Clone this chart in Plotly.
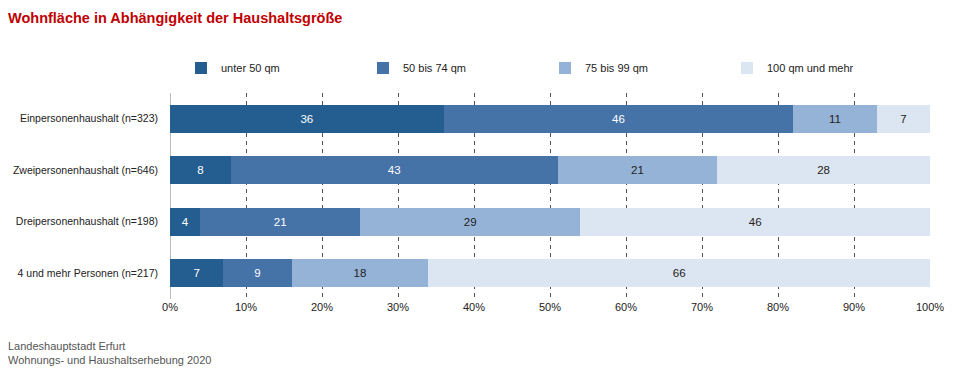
import plotly.graph_objects as go

categories = [
    "Einpersonenhaushalt (n=323)",
    "Zweipersonenhaushalt (n=646)",
    "Dreipersonenhaushalt (n=198)",
    "4 und mehr Personen (n=217)",
]
series_names = ["unter 50 qm", "50 bis 74 qm", "75 bis 99 qm", "100 qm und mehr"]
unter_50 = [36, 8, 4, 7]
bis_74 = [46, 43, 21, 9]
bis_99 = [11, 21, 29, 18]
ab_100 = [7, 28, 46, 66]
tick_vals = [0, 10, 20, 30, 40, 50, 60, 70, 80, 90, 100]
tick_text = [f"{v}%" for v in tick_vals]

colors = ["#245e91", "#4572a7", "#95b3d7", "#dce6f2"]
text_colors = ["white", "white", "#222222", "#222222"]
FONT = "Liberation Sans, Arial, sans-serif"
FS = 11

# page body has an 8px margin, so the figure is sized to fit the 960x375 window
W, H = 952, 367
L, R, T, B = 162, 30, 85, 76
PW, PH = W - L - R, H - T - B

fig = go.Figure()
for name, vals, col, tcol in zip(series_names, [unter_50, bis_74, bis_99, ab_100], colors, text_colors):
    fig.add_trace(go.Bar(
        y=categories, x=vals, name=name, orientation="h",
        marker=dict(color=col, line=dict(width=0)),
        text=vals, textposition="inside", insidetextanchor="middle",
        textfont=dict(color=tcol, size=FS + 0.5, family=FONT),
        hoverinfo="x+name",
    ))

fig.update_layout(
    barmode="stack",
    bargap=0.45,
    width=W, height=H,
    margin=dict(l=L, r=R, t=T, b=B, autoexpand=False),
    paper_bgcolor="white", plot_bgcolor="white",
    font=dict(family=FONT, size=FS, color="#222222"),
    title=dict(text="Wohnfläche in Abhängigkeit der Haushaltsgröße",
               xref="container", yref="container",
               x=0, xanchor="left", y=1 - 10 / H, yanchor="middle",
               pad=dict(l=0, r=0, t=0, b=0),
               font=dict(family=FONT, size=14.5, color="#c00000", weight="bold")),
    legend=dict(orientation="h", xref="paper", yref="paper",
                x=(173 - L) / PW, xanchor="left", y=1 + 25 / PH, yanchor="middle",
                entrywidth=137, entrywidthmode="pixels",
                traceorder="normal", font=dict(size=FS, family=FONT),
                itemclick=False, itemdoubleclick=False),
    xaxis=dict(range=[0, 100], tickvals=tick_vals, ticktext=tick_text,
               showgrid=True, gridcolor="#555555", griddash="4px,4px", gridwidth=1,
               zeroline=True, zerolinecolor="#bbbbbb", zerolinewidth=1,
               showline=False, ticks="", tickfont=dict(size=FS), automargin=False),
    yaxis=dict(autorange="reversed", showgrid=False, zeroline=False, ticks="",
               ticklabelstandoff=11, tickfont=dict(size=10.5), automargin=False),
    annotations=[
        dict(text="Landeshauptstadt Erfurt<br>Wohnungs- und Haushaltserhebung 2020",
             xref="paper", yref="paper", x=-(L + 2) / PW, y=-39 / PH, xanchor="left", yanchor="top",
             align="left", showarrow=False, font=dict(size=FS, color="#555555", family=FONT)),
    ],
)

fig.write_html("out.html")
